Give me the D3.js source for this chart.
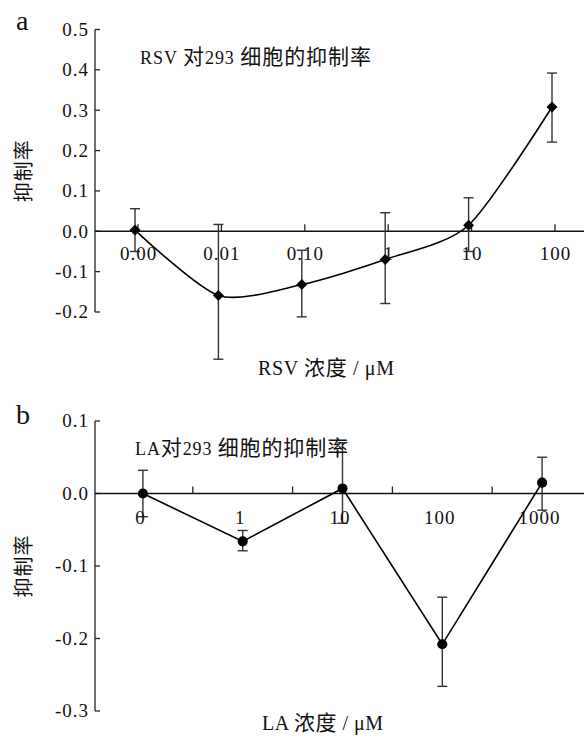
<!DOCTYPE html>
<html>
<head>
<meta charset="utf-8">
<script src="https://cdn.jsdelivr.net/npm/d3@7/dist/d3.min.js"></script>
<style>
  html, body { margin: 0; padding: 0; background: #fff; }
  svg { display: block; }
  text { fill: #111; font-family: "Liberation Serif", "Noto Sans CJK SC", serif; }
</style>
</head>
<body>
<script>
// Panel a: RSV inhibition of 293 cells
const rsvDoses = ["0.00", "0.01", "0.10", "1", "10", "100"];
const rsvMean  = [0.003, -0.159, -0.132, -0.070, 0.015, 0.308];
const rsvUpper = [0.056, 0.017, -0.047, 0.046, 0.083, 0.392];
const rsvLower = [-0.050, -0.317, -0.212, -0.179, -0.050, 0.221];
const rsvTicks = [0.5, 0.4, 0.3, 0.2, 0.1, 0.0, -0.1, -0.2];

// Panel b: LA inhibition of 293 cells
const laDoses = ["0", "1", "10", "100", "1000"];
const laMean  = [0.000, -0.066, 0.007, -0.208, 0.015];
const laUpper = [0.032, -0.051, 0.070, -0.143, 0.050];
const laLower = [-0.032, -0.079, -0.041, -0.266, -0.023];
const laTicks = [0.1, 0.0, -0.1, -0.2, -0.3];

const W = 584, H = 742;
const svg = d3.select("body").append("svg").attr("width", W).attr("height", H);

const fmt = d => d.toFixed(1);
const axisX = 95, axisRight = 584;
const isCJK = ch => /[\u3000-\u9fff]/.test(ch);

// mixed Latin / CJK text: CJK runs set slightly larger
function mixedText(sel, str, latinSize, cjkSize) {
  const runs = [];
  for (const ch of str) {
    const c = isCJK(ch);
    if (runs.length && runs[runs.length - 1].c === c) runs[runs.length - 1].s += ch;
    else runs.push({ c, s: ch });
  }
  sel.selectAll("tspan").data(runs).join("tspan")
    .attr("font-size", d => d.c ? cjkSize : latinSize)
    .style("white-space", "pre")
    .text(d => d.s);
  return sel;
}

function panel(opt) {
  const g = svg.append("g");
  const y = d3.scaleLinear().domain(opt.yDomain).range(opt.yRange);
  const y0 = y(0);

  // y axis with inward ticks
  g.append("line").attr("x1", axisX).attr("x2", axisX)
    .attr("y1", y(opt.yDomain[0])).attr("y2", y(opt.yDomain[1]))
    .attr("stroke", "#222").attr("stroke-width", 1.3);
  g.selectAll(".yt").data(opt.yTicks).join("line")
    .attr("x1", axisX).attr("x2", axisX + 5)
    .attr("y1", d => y(d)).attr("y2", d => y(d))
    .attr("stroke", "#222").attr("stroke-width", 1.3);
  g.selectAll(".yl").data(opt.yTicks).join("text")
    .attr("x", axisX - 6).attr("y", d => y(d)).attr("dy", "0.34em")
    .attr("text-anchor", "end").attr("font-size", 19).attr("letter-spacing", 1).text(fmt);

  // x axis along zero
  g.append("line").attr("x1", axisX).attr("x2", axisRight)
    .attr("y1", y0).attr("y2", y0).attr("stroke", "#111").attr("stroke-width", 1.4);
  g.selectAll(".xt").data(opt.tickPos).join("line")
    .attr("x1", d => d).attr("x2", d => d)
    .attr("y1", y0).attr("y2", y0 - 7)
    .attr("stroke", "#222").attr("stroke-width", 1.3);

  // error bars
  const cap = 5;
  const eb = g.selectAll(".eb").data(opt.cats).join("g").attr("stroke", "#333").attr("stroke-width", 1.4);
  eb.append("line").attr("x1", d => opt.x(d)).attr("x2", d => opt.x(d))
    .attr("y1", (d, i) => y(opt.upper[i])).attr("y2", (d, i) => y(opt.lower[i]));
  eb.append("line").attr("x1", d => opt.x(d) - cap).attr("x2", d => opt.x(d) + cap)
    .attr("y1", (d, i) => y(opt.upper[i])).attr("y2", (d, i) => y(opt.upper[i]));
  eb.append("line").attr("x1", d => opt.x(d) - cap).attr("x2", d => opt.x(d) + cap)
    .attr("y1", (d, i) => y(opt.lower[i])).attr("y2", (d, i) => y(opt.lower[i]));

  // tick labels
  g.selectAll(".xl").data(opt.cats).join("text")
    .attr("x", d => opt.x(d) + opt.labelDx + 0.5).attr("y", opt.labelY)
    .attr("text-anchor", "middle").attr("font-size", 19).attr("letter-spacing", 1).text(d => d);

  // connecting line
  const line = d3.line().x(d => opt.x(d[0])).y(d => y(d[1])).curve(opt.curve);
  g.append("path").datum(opt.cats.map((c, i) => [c, opt.mean[i]]))
    .attr("d", line).attr("fill", "none").attr("stroke", "#000").attr("stroke-width", 1.6);

  // markers
  g.selectAll(".mk").data(opt.cats).join("path")
    .attr("transform", (d, i) => `translate(${opt.x(d)},${y(opt.mean[i])}) rotate(${opt.rot})`)
    .attr("d", d3.symbol().type(opt.symbol).size(opt.symSize)())
    .attr("fill", "#000");

  // panel letter, title, axis titles
  svg.append("text").attr("x", 16).attr("y", opt.letterY).attr("font-size", 28).text(opt.letter);
  mixedText(svg.append("text").attr("x", opt.titleX).attr("y", opt.titleY)
    .attr("textLength", opt.titleW).attr("lengthAdjust", "spacing"), opt.title, 18, 21);
  mixedText(svg.append("text").attr("x", opt.xTitleX).attr("y", opt.xTitleY)
    .attr("textLength", opt.xTitleW).attr("lengthAdjust", "spacing"), opt.xTitle, 20, 21);
  const ym = (opt.yRange[0] + opt.yRange[1]) / 2;
  svg.append("text")
    .attr("transform", `translate(31,${ym}) rotate(-90)`)
    .attr("text-anchor", "middle").attr("font-size", 20).attr("letter-spacing", 1)
    .attr("fill", "#333").text("抑制率");
}

// panel a: categorical dose positions
const xa = d3.scalePoint().domain(rsvDoses).range([135, 552]);
panel({
  cats: rsvDoses, mean: rsvMean, upper: rsvUpper, lower: rsvLower,
  yDomain: [-0.2, 0.5], yRange: [312, 29.5], yTicks: rsvTicks,
  x: xa, tickPos: rsvDoses.map(d => xa(d) + 3),
  labelDx: 3, labelY: 260,
  curve: d3.curveCardinal.tension(0.25),
  symbol: d3.symbolSquare, symSize: 60, rot: 45,
  letter: "a", letterY: 30,
  title: "RSV 对293 细胞的抑制率", titleX: 140, titleY: 64, titleW: 231,
  xTitle: "RSV 浓度 / μM", xTitleX: 258, xTitleY: 375, xTitleW: 136
});

// panel b: band positions, ticks on band boundaries
const xb = d3.scaleBand().domain(laDoses).range([93, 592]);
const xbc = d => xb(d) + xb.bandwidth() / 2;
panel({
  cats: laDoses, mean: laMean, upper: laUpper, lower: laLower,
  yDomain: [-0.3, 0.1], yRange: [711, 421], yTicks: laTicks,
  x: xbc, tickPos: laDoses.slice(1).map(d => xb(d)),
  labelDx: -3, labelY: 524,
  curve: d3.curveLinear,
  symbol: d3.symbolCircle, symSize: 80, rot: 0,
  letter: "b", letterY: 424,
  title: "LA对293 细胞的抑制率", titleX: 135, titleY: 455, titleW: 213,
  xTitle: "LA 浓度 / μM", xTitleX: 262, xTitleY: 730, xTitleW: 121
});
</script>
</body>
</html>
